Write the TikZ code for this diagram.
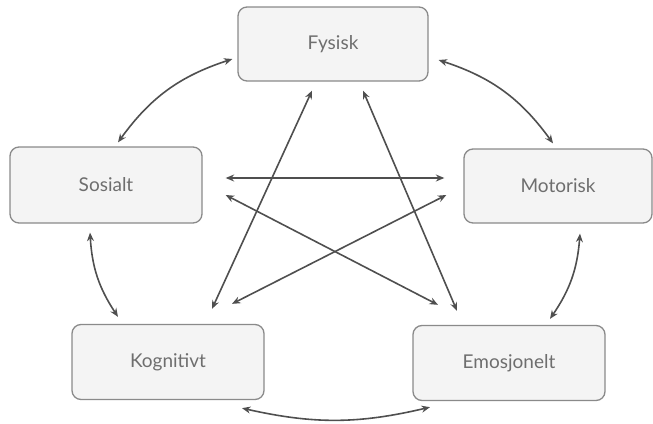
\documentclass[tikz,border=0pt]{standalone}
\usepackage{fontspec}
\setmainfont{Lato}
\usetikzlibrary{arrows.meta}
\definecolor{boxfill}{HTML}{F4F4F4}
\definecolor{boxline}{HTML}{8A8A8A}
\definecolor{txt}{HTML}{6E6E6E}
\definecolor{arr}{HTML}{4F4F4F}
\begin{document}
\begin{tikzpicture}[x=1pt,y=-1pt,
  box/.style={draw=boxline, fill=boxfill, line width=1.3pt, rounded corners=9pt,
    minimum width=190pt, minimum height=74pt, inner sep=0pt,
    font=\fontsize{19}{22}\selectfont, text=txt},
  link/.style={draw=arr, line width=1.6pt, {Stealth[length=8.5pt,width=7pt]}-{Stealth[length=8.5pt,width=7pt]}}]
\useasboundingbox (0,0) rectangle (653,423);
\node[box] (fys) at (333,44) {Fysisk};
\node[box, minimum width=192pt, minimum height=76pt] (sos) at (106,185) {Sosialt};
\node[box, minimum width=188pt] (mot) at (558,186) {Motorisk};
\node[box, minimum width=192pt, minimum height=75pt] (kog) at (168,362) {Kognitivt};
\node[box, minimum width=192pt, minimum height=75pt] (emo) at (509,363) {Emosjonelt};
% outer curved connectors
\draw[link] ([xshift=-5pt,yshift=-15pt]fys.west) to[bend right=18] ([xshift=12pt,yshift=4pt]sos.north);
\draw[link] ([xshift=10pt,yshift=-16pt]fys.east) to[bend left=18] ([xshift=-5pt,yshift=5pt]mot.north);
\draw[link] ([xshift=-16pt,yshift=-9pt]sos.south) to[bend right=15] ([xshift=-50pt,yshift=7pt]kog.north);
\draw[link] ([xshift=22pt,yshift=-10pt]mot.south) to[bend left=15] ([xshift=41pt,yshift=6pt]emo.north);
\draw[link] ([xshift=74pt,yshift=-8pt]kog.south) to[bend right=13] ([xshift=-79pt,yshift=-6pt]emo.south);
% inner straight connectors
\draw[link] ([xshift=23pt,yshift=7pt]sos.east) -- ([xshift=-19pt,yshift=8pt]mot.west);
\draw[link] ([xshift=23pt,yshift=-10pt]sos.east) -- ([xshift=-71pt,yshift=20pt]emo.north);
\draw[link] ([xshift=64pt,yshift=20pt]kog.north) -- ([xshift=-17pt,yshift=-9pt]mot.west);
\draw[link] ([xshift=44pt,yshift=15pt]kog.north) -- ([xshift=-21pt,yshift=-9pt]fys.south);
\draw[link] ([xshift=-52pt,yshift=14pt]emo.north) -- ([xshift=30pt,yshift=-9pt]fys.south);
\end{tikzpicture}
\end{document}
